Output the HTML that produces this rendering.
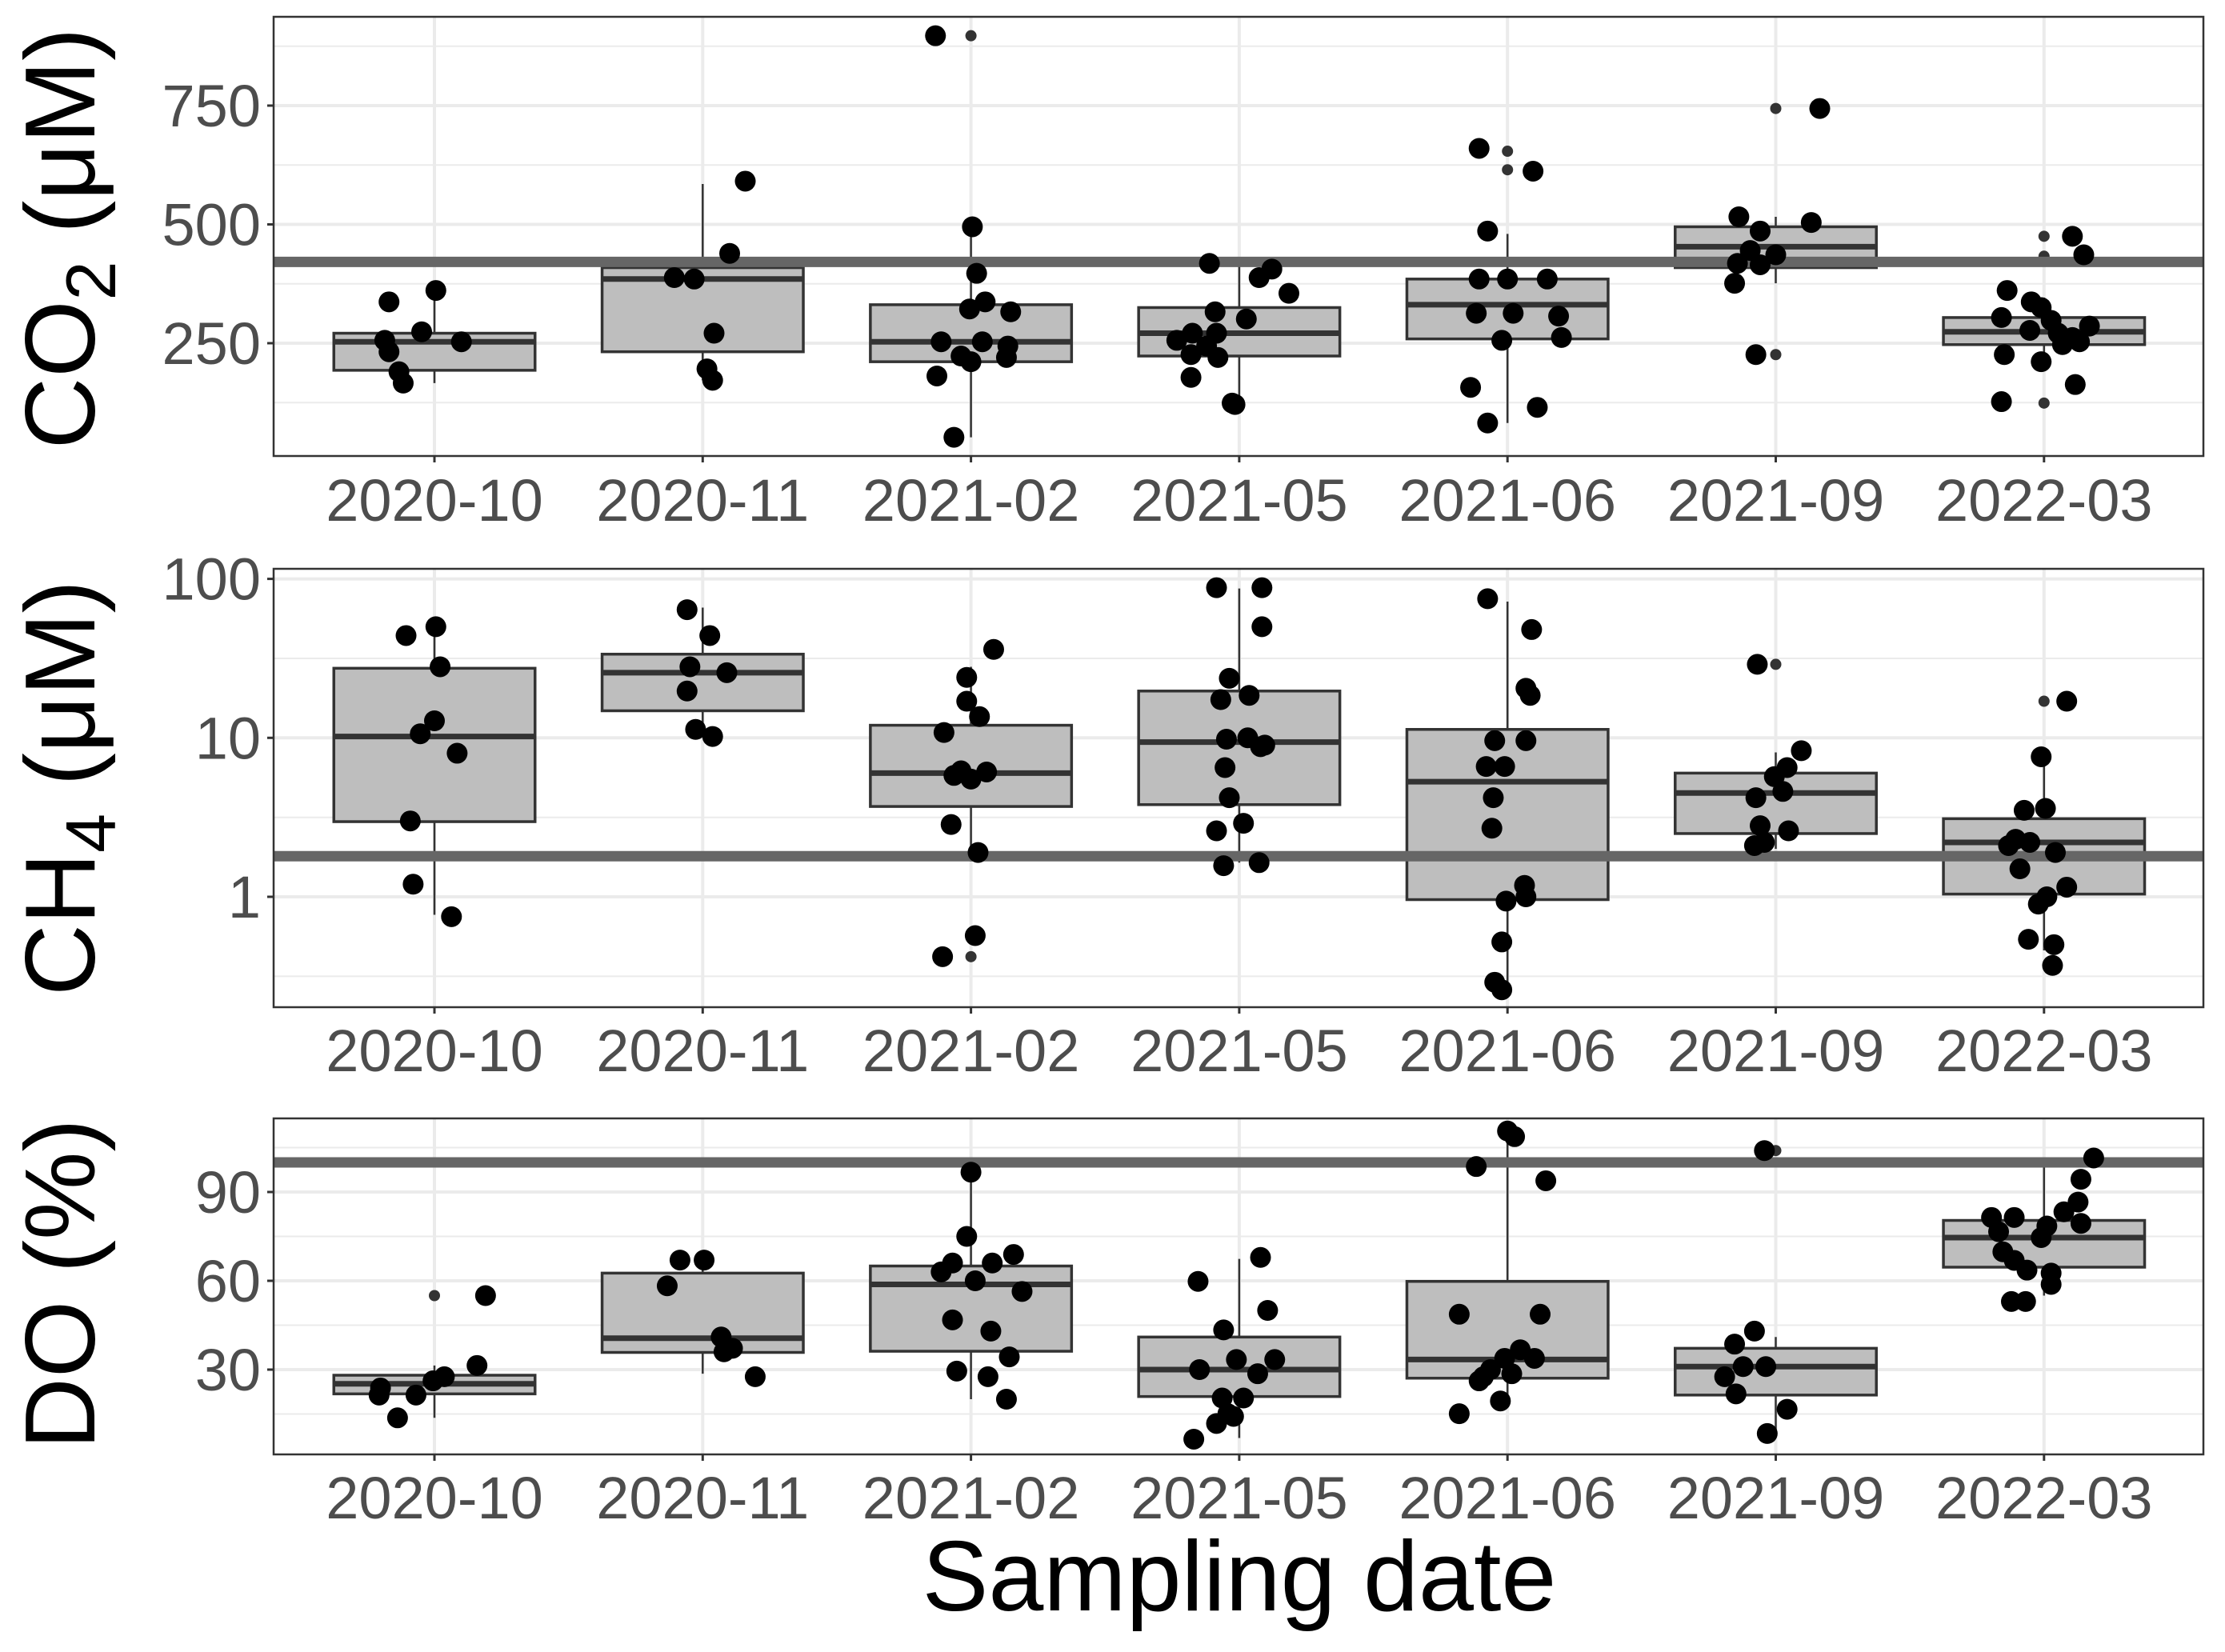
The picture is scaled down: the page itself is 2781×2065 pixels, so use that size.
<!DOCTYPE html>
<html><head><meta charset="utf-8"><style>
body{margin:0;background:#fff}
svg{display:block;font-family:"Liberation Sans",Arial,sans-serif}
</style></head><body>
<svg id="chart" width="2781" height="2065" viewBox="0 0 2781 2065" xmlns="http://www.w3.org/2000/svg"></svg>
<script>
const categories=["2020-10","2020-11","2021-02","2021-05","2021-06","2021-09","2022-03"];
// CO2 (uM)
const co2Q1=[193,232,211,223,259,409,247];
const co2Med=[253,385,253,271,331,453,274];
const co2Q3=[271,409,331,325,385,495,304];
const co2Lo=[166,172,52,121,82,376,202];
const co2Hi=[361,585,495,418,480,516,346];
const co2Out=[[],[],[897],[],[654,615],[744,226],[475,433,124]];
const co2Pts=[
[[337,-32],[361,1],[256,-35],[274,-9],[253,19],[232,-32],[190,-25],[166,-22]],
[[591,30],[439,19],[388,-20],[385,-6],[271,8],[196,3],[172,7]],
[[897,-25],[495,1],[397,4],[337,10],[322,-1],[316,28],[253,-21],[253,8],[244,26],[223,-7],[211,0],[181,-24],[220,25],[52,-12]],
[[418,-21],[406,23],[388,14],[355,35],[316,-17],[301,5],[271,-33],[271,-16],[256,-44],[244,-23],[226,-34],[220,-15],[178,-34],[124,-5],[121,-3]],
[[660,-20],[486,-14],[385,-20],[385,0],[385,28],[313,-22],[313,4],[307,36],[256,-4],[262,38],[612,18],[157,-26],[82,-14],[115,21]],
[[744,31],[516,-26],[486,-11],[504,25],[445,-18],[436,0],[418,-27],[415,-11],[376,-29],[226,-14]],
[[475,20],[436,28],[361,-26],[337,-9],[325,-2],[304,-30],[298,5],[277,-10],[271,10],[286,32],[262,20],[226,-28],[211,-2],[163,22],[127,-30],[247,13],[253,25]]];
// CH4 (uM, log)
const ch4Q1=[2.97,14.8,3.7,3.8,0.96,2.5,1.04];
const ch4Med=[10.2,25.7,6.0,9.4,5.3,4.5,2.2];
const ch4Q3=[27.4,33.6,12.0,19.7,11.3,6.0,3.1];
const ch4Lo=[0.77,10.4,1.67,1.64,0.26,2.0,0.46];
const ch4Hi=[56,66,28,87,72,8.1,7.6];
const ch4Out=[[],[],[0.42],[],[],[29],[17]];
const ch4Pts=[
[[44,-20],[50,1],[28,4],[12.8,0],[10.6,-10],[8.0,16],[3.0,-17],[1.2,-15],[0.75,12]],
[[64,-11],[44,5],[28,-9],[25.7,17],[19.7,-11],[11.3,-5],[10.2,7]],
[[36,16],[24,-3],[17,-3],[13.6,6],[10.8,-19],[6.2,-7],[6.1,11],[5.5,0],[2.85,-14],[1.9,5],[0.57,3],[0.42,-20],[5.8,-12]],
[[88,-16],[88,16],[50,16],[23.7,-7],[18.5,7],[17.4,-13],[9.8,-9],[8.8,15],[10,6],[9,18],[6.5,-10],[4.2,-7],[2.9,3],[2.6,-16],[1.64,14],[1.57,-11]],
[[75,-14],[48,17],[20.5,13],[18.5,16],[9.6,-9],[9.6,13],[6.6,-15],[6.6,-2],[4.2,-10],[2.7,-11],[1.18,12],[1.0,13],[0.94,-1],[0.52,-4],[0.29,-9],[0.26,-4]],
[[29,-13],[8.3,18],[6.5,8],[5.7,-1],[4.2,-14],[4.6,5],[2.8,-11],[2.6,9],[2.1,-15],[2.2,-8]],
[[17,16],[7.6,-2],[3.6,1],[3.5,-14],[2.3,-20],[2.2,-10],[1.9,8],[1.5,-17],[1.15,16],[1.0,2],[0.9,-4],[0.54,-11],[0.5,7],[0.37,6],[2.1,-25]]];
// DO (%)
const doQ1=[21.8,35.8,36.2,20.9,27.1,21.4,64.6];
const doMed=[25.2,40.6,58.8,30,33.4,31,74.6];
const doQ3=[28.1,62.6,65,41,59.8,37.2,80.4];
const doLo=[13.7,28.6,20,6.9,18,8.4,55];
const doHi=[31.4,67,96.7,67.4,110,41,101.5];
const doOut=[[55],[],[],[],[],[104],[]];
const doPts=[
[[55,36],[31.4,30],[27.6,7],[26.2,-1],[23.8,-38],[21.4,-13],[21.4,-39],[13.7,-26]],
[[67,-16],[67,1],[58.3,-25],[41,13],[36,15],[37.2,21],[27.6,37]],
[[96.7,0],[75,-3],[68.9,30],[66,-13],[66,15],[63,-21],[60,3],[56.4,36],[46.8,-13],[43,14],[34.3,27],[29.5,-10],[27.6,12],[20,25]],
[[67.9,15],[59.8,-29],[50,20],[43.4,-11],[33.4,-2],[33.4,25],[30,-28],[28.6,13],[20.4,-12],[20.4,3],[15.1,-8],[11.8,-16],[14.2,-4],[6.5,-32]],
[[110.6,0],[108.7,5],[98.6,-22],[93.8,27],[48.7,-34],[48.7,23],[36.7,9],[33.8,-2],[33.8,19],[30,-12],[27.6,-17],[28.6,3],[26.2,-20],[19.4,-5],[15.1,-34]],
[[104,-8],[43,-15],[38.6,-29],[31,-23],[31,-7],[27.6,-36],[21.8,-28],[16.6,8],[8.4,-6]],
[[101.5,35],[94.3,26],[86.6,24],[83.3,14],[81.4,-37],[81.4,-21],[79.4,26],[78.5,2],[76.6,-32],[74.6,-2],[69.8,-29],[66.9,-21],[63.6,-12],[62.6,5],[58.8,5],[53,-13],[53,-23]]];
const co2Ticks=[250,500,750], co2Minor=[125,375,625,875], co2Ref=[421];
const ch4Ticks=[1,10,100], ch4Minor=[0.316,3.16,31.6], ch4Ref=[1.8];
const doTicks=[30,60,90], doMinor=[15,45,75,105], doRef=[100];

const NS="http://www.w3.org/2000/svg";
const svg=document.getElementById('chart');
const X0=342,X1=2754,STEP=335.3,C0=543;
function xs(i){return C0+i*STEP;}
function mk(tag,attrs,parent){const e=document.createElementNS(NS,tag);for(const k in attrs)e.setAttribute(k,attrs[k]);(parent||svg).appendChild(e);return e;}

function panel(name,top,bot,ys,ticks,minor,ref,q1,med,q3,lo,hi,out,pts,tickLabelY){
  const g=mk('g',{});
  
  
  minor.forEach(v=>{const l=mk('line',{x1:X0,x2:X1,y1:ys(v),y2:ys(v),stroke:'#ebebeb','stroke-width':2},g);
    });
  ticks.forEach(v=>{const l=mk('line',{x1:X0,x2:X1,y1:ys(v),y2:ys(v),stroke:'#ebebeb','stroke-width':4},g);
    });
  categories.forEach((c,i)=>{const l=mk('line',{x1:xs(i),x2:xs(i),y1:top,y2:bot,stroke:'#ebebeb','stroke-width':4},g);
    });
  const bw=0.75*STEP;
  categories.forEach((c,i)=>{
    const w=mk('line',{x1:xs(i),x2:xs(i),y1:ys(hi[i]),y2:ys(lo[i]),stroke:'#333','stroke-width':2.5},g);
    
    const b=mk('rect',{x:xs(i)-bw/2,y:ys(q3[i]),width:bw,height:ys(q1[i])-ys(q3[i]),fill:'#bebebe',stroke:'#333','stroke-width':3.5},g);
    
    const m=mk('line',{x1:xs(i)-bw/2,x2:xs(i)+bw/2,y1:ys(med[i]),y2:ys(med[i]),stroke:'#333','stroke-width':7},g);
    
    out[i].forEach(v=>{const o=mk('circle',{cx:xs(i),cy:ys(v),r:7,fill:'#333'},g);
      });
  });
  ref.forEach(v=>{const r=mk('line',{x1:X0,x2:X1,y1:ys(v),y2:ys(v),stroke:'#666','stroke-width':13},g);
    });
  pts.forEach((arr,i)=>arr.forEach(p=>{
    const c=mk('circle',{cx:xs(i)+p[1]*1.774,cy:ys(p[0]),r:13,fill:'#000'},g);
    
  }));
  const fr=mk('rect',{x:X0,y:top,width:X1-X0,height:bot-top,fill:'none',stroke:'#333','stroke-width':2.5},g);
  
  ticks.forEach(v=>{
    const tk=mk('line',{x1:334,x2:X0,y1:ys(v),y2:ys(v),stroke:'#333','stroke-width':3},g);
    
    const t=mk('text',{x:326,y:ys(v)+26,'text-anchor':'end','font-size':74,fill:'#4d4d4d'},g);
    t.textContent=String(v);
    
  });
  categories.forEach((c,i)=>{
    const tk=mk('line',{x1:xs(i),x2:xs(i),y1:bot,y2:bot+8,stroke:'#333','stroke-width':3},g);
    
    const t=mk('text',{x:xs(i),y:tickLabelY+1,'text-anchor':'middle','font-size':74,fill:'#4d4d4d'},g);
    t.textContent=c;
    
  });
}
panel('co2',21,570,v=>429-(v-250)*0.594,co2Ticks,co2Minor,co2Ref,co2Q1,co2Med,co2Q3,co2Lo,co2Hi,co2Out,co2Pts,650);
panel('ch4',711,1259,v=>1121-Math.log10(v)*198.7,ch4Ticks,ch4Minor,ch4Ref,ch4Q1,ch4Med,ch4Q3,ch4Lo,ch4Hi,ch4Out,ch4Pts,1338);
panel('do',1398,1818,v=>1490-(v-90)*3.7,doTicks,doMinor,doRef,doQ1,doMed,doQ3,doLo,doHi,doOut,doPts,1897);

function ytitle(name,cy,html){
  const t=mk('text',{x:0,y:0,'text-anchor':'middle','font-size':124,fill:'#000',transform:'translate(118,'+cy+') rotate(-90)'});
  t.innerHTML=html;
  
}
ytitle('co2-y-axis-title',298,'CO<tspan font-size="88" dy="26">2</tspan><tspan dy="-26"> (μM)</tspan>');
ytitle('ch4-y-axis-title',985,'CH<tspan font-size="88" dy="26">4</tspan><tspan dy="-26"> (μM)</tspan>');
ytitle('do-y-axis-title',1605,'DO (%)');
const xt=mk('text',{x:1549,y:2013,'text-anchor':'middle','font-size':124,fill:'#000'});
xt.textContent='Sampling date';


</script>
</body></html>
